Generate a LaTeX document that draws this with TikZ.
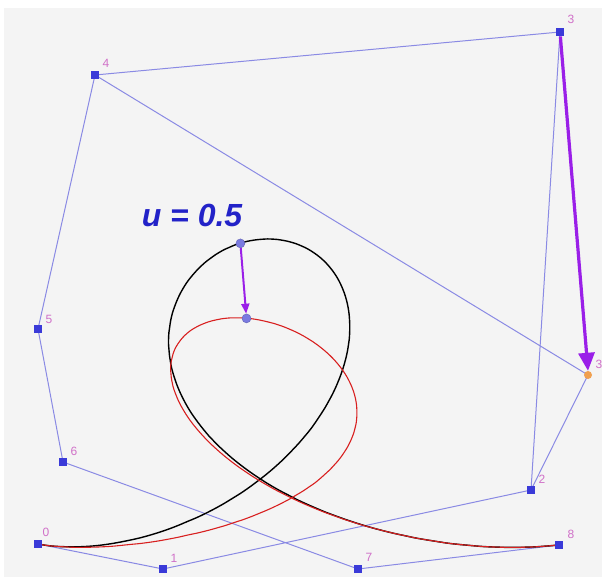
\documentclass[tikz,border=0pt]{standalone}
\usepackage{fontspec}
\setsansfont{Liberation Sans}
\usetikzlibrary{arrows.meta}
\definecolor{bg}{HTML}{F4F4F4}
\definecolor{poly}{HTML}{8A8AE4}
\definecolor{ctrl}{HTML}{3A3AD8}
\definecolor{lbl}{HTML}{D070C8}
\definecolor{arr}{HTML}{9A1FE8}
\definecolor{utext}{HTML}{2222C8}
\definecolor{redc}{HTML}{D82020}
\definecolor{selpt}{HTML}{F0A050}
\definecolor{ptfill}{HTML}{7A7AE0}
\tikzset{
  polyline/.style={draw=poly, line width=1pt},
  ctrlpt/.style={fill=ctrl, draw=none, minimum size=8.5pt, inner sep=0pt, rectangle},
  ptlabel/.style={text=lbl, font=\sffamily\fontsize{12}{12}\selectfont, inner sep=0pt},
  curvept/.style={circle, fill=ptfill, draw=ptfill!80!black, minimum size=9pt, inner sep=0pt, line width=0.4pt},
  movearrow/.style={draw=arr, line width=3.2pt, -{Triangle[length=18pt,width=16pt]}},
  uarrow/.style={draw=arr, line width=2pt, -{Triangle[length=10pt,width=8pt]}}
}
\begin{document}
\begin{tikzpicture}[x=1pt,y=-1pt]
\useasboundingbox (0,0) rectangle (602,577);
\fill[white] (0,0) rectangle (602,577);
\fill[bg] (4,8) rectangle (602,577);
% control points
\coordinate (c0) at (38,544);
\coordinate (c1) at (163,569);
\coordinate (c2) at (531,490);
\coordinate (c3) at (560,32);
\coordinate (c4) at (95,75);
\coordinate (c5) at (38,329);
\coordinate (c6) at (63,462);
\coordinate (c7) at (358,569);
\coordinate (c8) at (559,545);
\coordinate (c3n) at (588,375);
% polygons
\draw[polyline] (c0) -- (c1) -- (c2) -- (c3) -- (c4) -- (c5) -- (c6) -- (c7) -- (c8);
\draw[polyline] (c2) -- (c3n) -- (c4);
% curves (Bezier of degree 8)
\draw[black, line width=1.4pt] plot[domain=0.0005:0.9995, samples=160, variable=\t, smooth]
  ({(1-\t)^8*38 + 8*\t*(1-\t)^7*163 + 28*\t^2*(1-\t)^6*531 + 56*\t^3*(1-\t)^5*560 + 70*\t^4*(1-\t)^4*95 + 56*\t^5*(1-\t)^3*38 + 28*\t^6*(1-\t)^2*63 + 8*\t^7*(1-\t)*358 + \t^8*559},
   {(1-\t)^8*544 + 8*\t*(1-\t)^7*569 + 28*\t^2*(1-\t)^6*490 + 56*\t^3*(1-\t)^5*32 + 70*\t^4*(1-\t)^4*75 + 56*\t^5*(1-\t)^3*329 + 28*\t^6*(1-\t)^2*462 + 8*\t^7*(1-\t)*569 + \t^8*545});
\draw[redc, line width=1.1pt] plot[domain=0.0005:0.9995, samples=160, variable=\t, smooth]
  ({(1-\t)^8*38 + 8*\t*(1-\t)^7*163 + 28*\t^2*(1-\t)^6*531 + 56*\t^3*(1-\t)^5*588 + 70*\t^4*(1-\t)^4*95 + 56*\t^5*(1-\t)^3*38 + 28*\t^6*(1-\t)^2*63 + 8*\t^7*(1-\t)*358 + \t^8*559},
   {(1-\t)^8*544 + 8*\t*(1-\t)^7*569 + 28*\t^2*(1-\t)^6*490 + 56*\t^3*(1-\t)^5*375 + 70*\t^4*(1-\t)^4*75 + 56*\t^5*(1-\t)^3*329 + 28*\t^6*(1-\t)^2*462 + 8*\t^7*(1-\t)*569 + \t^8*545});
% control point markers
\foreach \i in {0,...,8} {\node[ctrlpt] (p\i) at (c\i) {};}
\node[circle, fill=selpt, inner sep=0pt, minimum size=8pt] (p3n) at (c3n) {};
% labels
\node[ptlabel] (l0) at (46,532) {0};
\node[ptlabel] (l1) at (174,558) {1};
\node[ptlabel] (l2) at (542,479) {2};
\node[ptlabel] (l3) at (571,19) {3};
\node[ptlabel] (l4) at (106,63) {4};
\node[ptlabel] (l5) at (49,319) {5};
\node[ptlabel] (l6) at (74,451) {6};
\node[ptlabel] (l7) at (369,557) {7};
\node[ptlabel] (l8) at (571,534) {8};
\node[ptlabel] (l3n) at (599,364) {3};
% move arrow
\draw[movearrow] (p3) -- (p3n.north);
% u = 0.5 points
\node[curvept] (ua) at (240.4,243.4) {};
\node[curvept] (ub) at (246.5,318.4) {};
\draw[uarrow] (ua) -- (ub);
\node[text=utext, font=\sffamily\bfseries\itshape\fontsize{32}{32}\selectfont, inner sep=0pt] (ut) at (192,215) {u = 0.5};
\end{tikzpicture}
\end{document}
